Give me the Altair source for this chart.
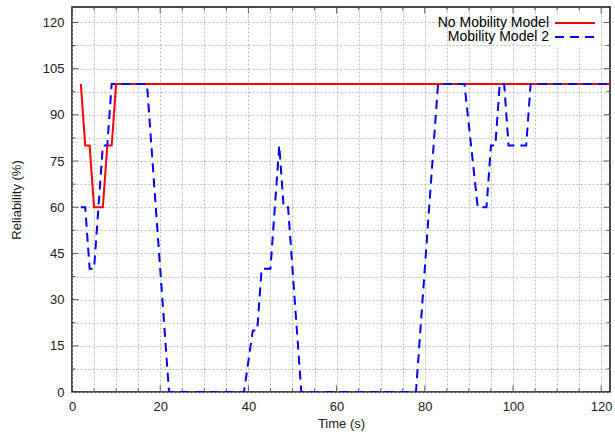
import altair as alt
import pandas as pd

# ---- data ----
red_time = [2, 3, 4, 5, 7, 8, 9, 10, 122]
red_rel = [100, 80, 80, 60, 60, 80, 80, 100, 100]

blue_time = [2, 3, 4, 5, 7, 8, 9, 17, 22, 39, 41, 42, 43, 45, 47, 48, 49, 52,
             78, 83, 89, 92, 94, 95, 96, 97, 98, 99, 103, 104, 122]
blue_rel = [60, 60, 40, 40, 80, 80, 100, 100, 0, 0, 20, 20, 40, 40, 80, 60, 60, 0,
            0, 100, 100, 60, 60, 80, 80, 100, 100, 80, 80, 100, 100]

series_names = ["No Mobility Model", "Mobility Model 2"]
series_colors = ["#ff0000", "#0000ff"]

x_major = [0, 20, 40, 60, 80, 100, 120]
x_minor = [5, 10, 15, 25, 30, 35, 45, 50, 55, 65, 70, 75, 85, 90, 95, 105, 110, 115]
y_major = [0, 15, 30, 45, 60, 75, 90, 105, 120]
y_minor = [7.5, 22.5, 37.5, 52.5, 67.5, 82.5, 97.5, 112.5]

W, H = 538, 385
FONT = "Liberation Sans"

red_df = pd.DataFrame({"Time": red_time, "Reliability": red_rel, "series": series_names[0]})
blue_df = pd.DataFrame({"Time": blue_time, "Reliability": blue_rel, "series": series_names[1]})

xscale = alt.Scale(domain=[0, 122], nice=False, zero=False)
yscale = alt.Scale(domain=[0, 125], nice=False, zero=False)

common_axis = dict(
    grid=True, gridColor="#a8a8a8", gridDash=[2, 2], gridWidth=0.8,
    domain=False, ticks=False, labelPadding=8, labelFont=FONT, labelFontSize=13,
    labelColor="#222222", titleFont=FONT, titleFontSize=13, titleFontWeight="normal",
    titleColor="#222222", labelFlush=False,
)
xaxis = alt.Axis(
    title="Time (s)", values=sorted(x_major + x_minor),
    labelExpr="datum.value % 20 == 0 ? datum.label : ''",
    titlePadding=4, **common_axis,
)
yaxis = alt.Axis(
    title="Reliability (%)", values=sorted(y_major + y_minor),
    labelExpr="datum.value % 15 == 0 ? datum.label : ''",
    titlePadding=19, **common_axis,
)

X = alt.X("Time:Q", scale=xscale, axis=xaxis)
Y = alt.Y("Reliability:Q", scale=yscale, axis=yaxis)

legend = alt.Legend(
    title=None, orient="none", legendX=479, legendY=7, padding=2, fillColor="white",
    symbolType="M-4,0H4", symbolSize=100, symbolStrokeWidth=2,
    symbolOffset=15, labelOffset={"expr": "-33"},
    labelFont=FONT, labelFontSize=14, labelColor="#000000",
    labelAlign="right", rowPadding={"expr": "-2"},
    labelExpr="'        ' + datum.label",
)
color = alt.Color("series:N", scale=alt.Scale(domain=series_names, range=series_colors), legend=legend)
dash = alt.StrokeDash("series:N", scale=alt.Scale(domain=series_names, range=[[1, 0], [9, 6]]), legend=legend)

red_line = alt.Chart(red_df).mark_line(strokeWidth=2, clip=True).encode(x=X, y=Y, color=color, strokeDash=dash)
blue_line = alt.Chart(blue_df).mark_line(strokeWidth=2, clip=True).encode(x=X, y=Y, color=color, strokeDash=dash)

xt = pd.DataFrame({"Time": x_major + x_minor, "len": [13] * len(x_major) + [7] * len(x_minor)})
yt = pd.DataFrame({"Reliability": y_major + y_minor, "len": [13] * len(y_major) + [7] * len(y_minor)})
S = alt.Size("len:Q", scale=None, legend=None)

tick_style = dict(color="#222222", thickness=1, clip=True)
xt_bottom = alt.Chart(xt).mark_tick(orient="vertical", **tick_style).encode(x=X, y=alt.value(H), size=S)
xt_top = alt.Chart(xt).mark_tick(orient="vertical", **tick_style).encode(x=X, y=alt.value(0), size=S)
yt_left = alt.Chart(yt).mark_tick(orient="horizontal", **tick_style).encode(y=Y, x=alt.value(0), size=S)
yt_right = alt.Chart(yt).mark_tick(orient="horizontal", **tick_style).encode(y=Y, x=alt.value(W), size=S)

chart = alt.layer(xt_bottom, xt_top, yt_left, yt_right, red_line, blue_line).properties(
    width=W, height=H,
    padding={"left": 72, "top": 7, "right": 5, "bottom": 47},
    autosize=alt.AutoSizeParams(type="none"),
    background="white",
).configure_view(stroke="#111111", strokeWidth=1.5)

chart.save("out.html", embed_options={"renderer": "svg", "actions": False})
